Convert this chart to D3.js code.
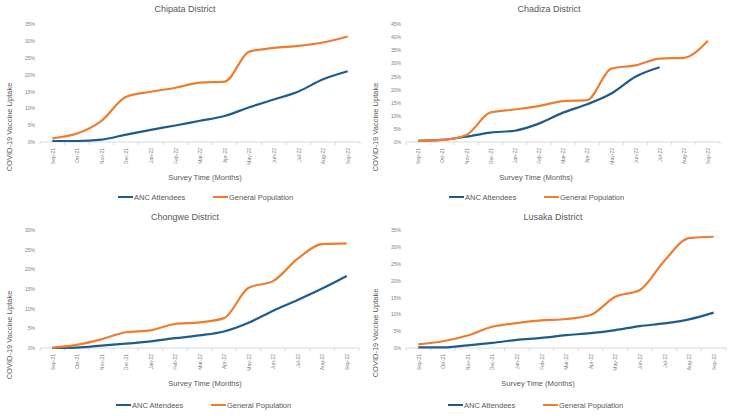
<!DOCTYPE html>
<html>
<head>
<meta charset="utf-8">
<script src="https://cdn.jsdelivr.net/npm/d3@7"></script>
<style>
  body { margin: 0; background: #fff; }
  svg { opacity: 0.999; }
  svg text { font-family: "Liberation Sans", Arial, sans-serif; fill: #595959; }
  svg .tick text { fill: #7f7f7f; }
</style>
</head>
<body>
<div id="chart"></div>
<script>
var svgWidth = 733;
var svgHeight = 416;

// data (percent uptake)
var months = ["Sep-21", "Oct-21", "Nov-21", "Dec-21", "Jan-22", "Feb-22", "Mar-22",
  "Apr-22", "May-22", "Jun-22", "Jul-22", "Aug-22", "Sep-22"];
var districts = ["Chipata District", "Chadiza District", "Chongwe District", "Lusaka District"];
var seriesNames = ["ANC Attendees", "General Population"];
var yMax = [35, 45, 30, 35];

var chipataAnc = [0.3, 0.3, 0.7, 2.2, 3.6, 4.9, 6.3, 7.7, 10.3, 12.6, 15.0, 18.6, 21.0];
var chipataGen = [1.1, 2.5, 6.3, 13.4, 14.9, 16.1, 17.6, 17.9, 26.8, 27.9, 28.5, 29.5, 31.3];
var chadizaAnc = [0.4, 0.8, 2.0, 3.6, 4.3, 7.0, 11.2, 14.4, 18.5, 24.9, 28.5];
var chadizaGen = [0.4, 0.8, 2.7, 11.3, 12.4, 13.7, 15.6, 16.0, 28.0, 29.2, 31.8, 32.1, 38.6];
var chongweAnc = [0.0, 0.1, 0.6, 1.1, 1.7, 2.5, 3.2, 4.2, 6.4, 9.5, 12.2, 15.1, 18.3];
var chongweGen = [0.1, 0.8, 2.2, 4.0, 4.5, 6.1, 6.5, 7.6, 15.3, 17.0, 22.7, 26.4, 26.6];
var lusakaAnc = [0.2, 0.2, 0.8, 1.5, 2.4, 3.0, 3.8, 4.4, 5.3, 6.5, 7.3, 8.5, 10.5];
var lusakaGen = [1.1, 2.0, 3.7, 6.3, 7.4, 8.2, 8.6, 9.8, 15.2, 17.2, 25.9, 32.6, 33.0];

var ancData = [chipataAnc, chadizaAnc, chongweAnc, lusakaAnc];
var genData = [chipataGen, chadizaGen, chongweGen, lusakaGen];

var colors = ["#1f5c8b", "#ed7d31"];

// panel geometry (pixels)
var panels = [
  { left: 40, right: 360, base: 142, top: 24, ox: 0, oy: 0, titleX: 185, xLabX: 205, legX: 118, yTitleX: 9, yTitleY: 127 },
  { left: 406, right: 720, base: 142, top: 24, ox: 366, oy: 0, titleX: 549, xLabX: 536, legX: 449, yTitleX: 375, yTitleY: 127 },
  { left: 40, right: 359, base: 348, top: 230, ox: 0, oy: 208, titleX: 185, xLabX: 205, legX: 116, yTitleX: 9, yTitleY: 335 },
  { left: 406, right: 726, base: 348, top: 230, ox: 366, oy: 208, titleX: 553, xLabX: 538, legX: 448, yTitleX: 375, yTitleY: 333 }
];

var svg = d3.select("#chart")
  .append("svg")
  .attr("width", svgWidth)
  .attr("height", svgHeight);

districts.forEach(function(name, i) {
  var p = panels[i];
  var g = svg.append("g");

  var x = d3.scalePoint()
    .domain(months)
    .range([p.left, p.right])
    .padding(0.5);

  var y = d3.scaleLinear()
    .domain([0, yMax[i]])
    .range([p.base, p.top]);

  // title
  g.append("text")
    .attr("x", p.titleX)
    .attr("y", p.oy + 12)
    .attr("text-anchor", "middle")
    .attr("font-size", "9px")
    .text(name);

  // y tick labels
  var yAxis = d3.axisLeft(y)
    .tickValues(d3.range(0, yMax[i] + 1, 5))
    .tickSize(0)
    .tickPadding(0)
    .tickFormat(function(d) { return d + "%"; });

  var ya = g.append("g")
    .attr("transform", `translate(${p.left - 5}, 0)`)
    .call(yAxis);
  ya.select(".domain").remove();
  ya.selectAll("text")
    .attr("font-size", "5px")
    .style("font-family", "Liberation Sans, Arial, sans-serif");

  // x axis line + boundary ticks
  var step = x.step();
  g.append("line")
    .attr("x1", p.left).attr("x2", p.right)
    .attr("y1", p.base).attr("y2", p.base)
    .attr("stroke", "#d0d0d0")
    .attr("stroke-width", 0.8);

  g.selectAll("line.tk")
    .data(d3.range(months.length + 1))
    .enter()
    .append("line")
    .attr("class", "tk")
    .attr("x1", function(d) { return p.left + d * step; })
    .attr("x2", function(d) { return p.left + d * step; })
    .attr("y1", p.base)
    .attr("y2", p.base + 3)
    .attr("stroke", "#d0d0d0")
    .attr("stroke-width", 0.8);

  var xAxis = d3.axisBottom(x).tickSize(0).tickPadding(0);
  var xa = g.append("g")
    .attr("transform", `translate(0, ${p.base})`)
    .call(xAxis);
  xa.select(".domain").remove();
  xa.selectAll("text")
    .attr("font-size", "5px")
    .style("font-family", "Liberation Sans, Arial, sans-serif")
    .attr("text-anchor", "end")
    .attr("dy", "0.35em")
    .attr("transform", "translate(0, 6) rotate(-90)")
    .attr("x", 0)
    .attr("y", 0);

  // axis titles
  g.append("text")
    .attr("x", p.xLabX)
    .attr("y", p.base + 38)
    .attr("text-anchor", "middle")
    .attr("font-size", "7.5px")
    .text("Survey Time (Months)");

  g.append("text")
    .attr("transform", `translate(${p.yTitleX}, ${p.yTitleY}) rotate(-90)`)
    .attr("text-anchor", "middle")
    .attr("dy", "0.35em")
    .attr("font-size", "7.5px")
    .text("COVID-19 Vaccine Uptake");

  // lines
  var line = d3.line()
    .x(function(d, j) { return x(months[j]); })
    .y(function(d) { return y(d); })
    .curve(d3.curveMonotoneX);

  [ancData[i], genData[i]].forEach(function(vals, s) {
    g.append("path")
      .datum(vals)
      .attr("fill", "none")
      .attr("stroke", colors[s])
      .attr("stroke-width", 2.2)
      .attr("stroke-linejoin", "round")
      .attr("d", line);
  });

  // legend
  var ly = p.oy + 197;
  var lg = g.append("g");
  var offsets = [0, 95];
  seriesNames.forEach(function(s, k) {
    var lx = p.legX + offsets[k];
    lg.append("line")
      .attr("x1", lx).attr("x2", lx + 15)
      .attr("y1", ly).attr("y2", ly)
      .attr("stroke", colors[k])
      .attr("stroke-width", 2);
    lg.append("text")
      .attr("x", lx + 16)
      .attr("y", ly)
      .attr("dy", "0.35em")
      .attr("font-size", "7.5px")
      .text(s);
  });
});
</script>
</body>
</html>
